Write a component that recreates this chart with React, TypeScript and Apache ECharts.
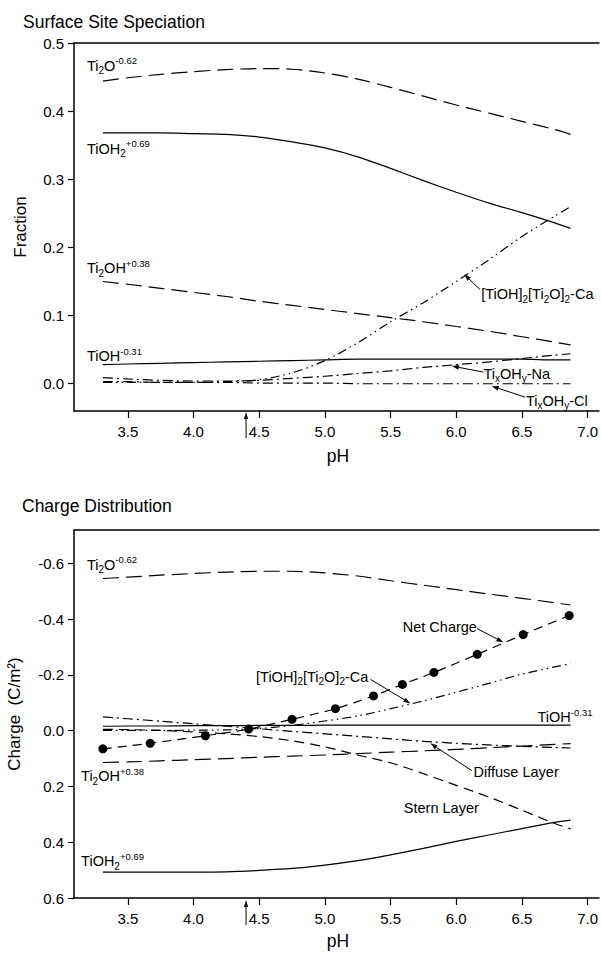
import React, { useEffect, useRef } from "react";
import * as echarts from "echarts";

const FONT = '"Liberation Sans", Arial, Helvetica, sans-serif';

// ---------- data ----------
const phGrid = [3.31, 3.5, 3.75, 4.0, 4.25, 4.5, 4.75, 5.0, 5.25, 5.5, 5.75, 6.0, 6.25, 6.5, 6.75, 6.87];

// Surface Site Speciation (fraction)
const fracTi2O = [0.444, 0.449, 0.454, 0.458, 0.461, 0.4625, 0.4615, 0.456, 0.447, 0.435, 0.422, 0.409, 0.397, 0.385, 0.373, 0.366];
const fracTiOH2 = [0.368, 0.368, 0.368, 0.367, 0.366, 0.362, 0.355, 0.346, 0.333, 0.316, 0.298, 0.281, 0.265, 0.251, 0.236, 0.228];
const fracTi2OH = [0.150, 0.146, 0.140, 0.134, 0.128, 0.121, 0.115, 0.109, 0.103, 0.097, 0.091, 0.084, 0.077, 0.069, 0.061, 0.057];
const fracTiOH = [0.028, 0.029, 0.030, 0.031, 0.032, 0.033, 0.034, 0.035, 0.036, 0.036, 0.036, 0.036, 0.036, 0.036, 0.035, 0.035];
const fracCa = [0.002, 0.002, 0.002, 0.002, 0.003, 0.006, 0.016, 0.034, 0.060, 0.091, 0.119, 0.150, 0.182, 0.216, 0.246, 0.260];
const fracNa = [0.009, 0.007, 0.005, 0.004, 0.004, 0.005, 0.008, 0.011, 0.015, 0.019, 0.024, 0.028, 0.032, 0.037, 0.042, 0.044];
const fracCl = [0.003, 0.003, 0.002, 0.002, 0.002, 0.001, 0.001, 0.001, 0.0, 0.0, 0.0, 0.0, 0.0, 0.0, 0.0, 0.0];

// Charge Distribution (C/m2)
const chgTi2O = [-0.546, -0.551, -0.558, -0.564, -0.569, -0.572, -0.572, -0.566, -0.555, -0.538, -0.522, -0.506, -0.490, -0.475, -0.459, -0.451];
const chgTiOH2 = [0.507, 0.507, 0.507, 0.507, 0.506, 0.501, 0.494, 0.482, 0.466, 0.445, 0.422, 0.397, 0.374, 0.351, 0.329, 0.321];
const chgTi2OH = [0.114, 0.112, 0.108, 0.104, 0.100, 0.095, 0.091, 0.087, 0.082, 0.077, 0.072, 0.067, 0.061, 0.055, 0.049, 0.046];
const chgTiOH = [-0.016, -0.017, -0.017, -0.018, -0.018, -0.019, -0.019, -0.020, -0.020, -0.020, -0.020, -0.020, -0.020, -0.020, -0.020, -0.020];
const chgCa = [-0.001, -0.001, -0.001, -0.002, -0.003, -0.008, -0.019, -0.035, -0.053, -0.079, -0.107, -0.138, -0.170, -0.203, -0.229, -0.240];
const chgDiffuse = [-0.050, -0.043, -0.034, -0.025, -0.016, -0.007, 0.002, 0.011, 0.020, 0.029, 0.038, 0.045, 0.051, 0.056, 0.060, 0.062];
const chgStern = [-0.005, -0.004, -0.001, 0.004, 0.011, 0.021, 0.036, 0.058, 0.087, 0.115, 0.154, 0.196, 0.238, 0.285, 0.333, 0.352];
const netPH = [3.31, 3.67, 4.09, 4.42, 4.75, 5.08, 5.37, 5.59, 5.83, 6.16, 6.51, 6.86];
const netCharge = [0.065, 0.045, 0.018, -0.006, -0.041, -0.079, -0.125, -0.166, -0.209, -0.274, -0.345, -0.413];

const xTicks = [3.5, 4.0, 4.5, 5.0, 5.5, 6.0, 6.5, 7.0];
const fracTicks = [0.0, 0.1, 0.2, 0.3, 0.4, 0.5];
const chargeTicks = [-0.6, -0.4, -0.2, 0.0, 0.2, 0.4, 0.6];
const pzcPH = 4.4;

// ---------- annotations (data coords) ----------
const topLabels = [
  { x: 3.189, y: 0.4666, text: "{b|Ti}{sub|2}{b|O}{sup|-0.62}" },
  { x: 3.189, y: 0.3445, text: "{b|TiOH}{sub|2}{sup|+0.69}" },
  { x: 3.189, y: 0.1696, text: "{b|Ti}{sub|2}{b|OH}{sup|+0.38}" },
  { x: 3.189, y: 0.0401, text: "{b|TiOH}{sup|-0.31}" },
  { x: 6.19, y: 0.1313, text: "{b|[TiOH]}{sub|2}{b|[Ti}{sub|2}{b|O]}{sub|2}{b|-Ca}" },
  { x: 6.207, y: 0.0144, text: "{b|Ti}{sub|x}{b|OH}{sub|y}{b|-Na}" },
  { x: 6.531, y: -0.0253, text: "{b|Ti}{sub|x}{b|OH}{sub|y}{b|-Cl}" },
];
const topArrows = [
  { from: [6.181, 0.1382], to: [6.061, 0.1607] },
  { from: [6.207, 0.0171], to: [5.967, 0.0259] },
  { from: [6.524, -0.0197], to: [6.271, -0.0035] },
];
const bottomLabels = [
  { x: 3.189, y: -0.596, text: "{b|Ti}{sub|2}{b|O}{sup|-0.62}" },
  { x: 5.593, y: -0.373, text: "{b|Net Charge}" },
  { x: 4.476, y: -0.1935, text: "{b|[TiOH]}{sub|2}{b|[Ti}{sub|2}{b|O]}{sub|2}{b|-Ca}" },
  { x: 6.619, y: -0.049, text: "{b|TiOH}{sup|-0.31}" },
  { x: 6.132, y: 0.147, text: "{b|Diffuse Layer}" },
  { x: 5.601, y: 0.2763, text: "{b|Stern Layer}" },
  { x: 3.144, y: 0.1624, text: "{b|Ti}{sub|2}{b|OH}{sup|+0.38}" },
  { x: 3.144, y: 0.468, text: "{b|TiOH}{sub|2}{sup|+0.69}" },
];
const bottomArrows = [
  { from: [6.157, -0.367], to: [6.359, -0.317] },
  { from: [5.348, -0.184], to: [5.651, -0.098] },
  { from: [6.119, 0.1434], to: [5.803, 0.0452] },
];

const LONG = [16, 7];
const MED = [10, 6];
const DASHDOT = [10, 4, 2, 4];
const DASHDOTDOT = [9, 4, 1.5, 4, 1.5, 4];

function zip(xs: number[], ys: number[]) {
  return xs.map((x, i) => [x, ys[i]]);
}

function lineSeries(name: string, xAxisIndex: number, yAxisIndex: number, data: number[][], dash: any, width = 1.2) {
  return {
    type: "line",
    name,
    xAxisIndex,
    yAxisIndex,
    data,
    smooth: 0.3,
    showSymbol: false,
    symbol: "none",
    lineStyle: { color: "#000", width, type: dash },
    silent: true,
    z: 3,
  };
}

const rich = {
  b: { fontSize: 14.5, lineHeight: 20, fontFamily: FONT, fill: "#000" },
  sub: { fontSize: 10, lineHeight: 8, fontFamily: FONT, fill: "#000", verticalAlign: "bottom" },
  sup: { fontSize: 9.5, lineHeight: 13, fontFamily: FONT, fill: "#000", verticalAlign: "top" },
};

function xAxisPair(gridIndex: number) {
  return [
    {
      gridIndex,
      type: "value",
      min: 3.09,
      max: 7.087,
      axisLine: { show: true, onZero: false, lineStyle: { color: "#000", width: 1.5 } },
      axisTick: { show: true, length: 7, customValues: xTicks, lineStyle: { color: "#000", width: 1.2 } },
      axisLabel: {
        customValues: xTicks,
        formatter: (v: number) => v.toFixed(1),
        fontSize: 15,
        fontFamily: FONT,
        color: "#000",
        margin: 13,
      },
      splitLine: { show: false },
    },
    {
      gridIndex,
      type: "value",
      position: "top",
      min: 3.09,
      max: 7.087,
      axisLine: { show: true, onZero: false, lineStyle: { color: "#000", width: 1.5 } },
      axisTick: { show: false },
      axisLabel: { show: false },
      splitLine: { show: false },
    },
  ];
}

export default function App() {
  const ref = useRef<HTMLDivElement>(null);

  useEffect(() => {
    if (!ref.current) return;
    const chart = echarts.init(ref.current, undefined, { renderer: "svg" });

    const topSeries = [
      lineSeries("Ti2O", 0, 0, zip(phGrid, fracTi2O), LONG),
      lineSeries("TiOH2", 0, 0, zip(phGrid, fracTiOH2), "solid"),
      lineSeries("Ti2OH", 0, 0, zip(phGrid, fracTi2OH), LONG),
      lineSeries("TiOH", 0, 0, zip(phGrid, fracTiOH), "solid"),
      lineSeries("Ca", 0, 0, zip(phGrid, fracCa), DASHDOTDOT),
      lineSeries("Na", 0, 0, zip(phGrid, fracNa), DASHDOT),
      lineSeries("Cl", 0, 0, zip(phGrid, fracCl), DASHDOT),
    ];
    const bottomSeries = [
      lineSeries("Ti2O b", 2, 1, zip(phGrid, chgTi2O), LONG),
      lineSeries("TiOH2 b", 2, 1, zip(phGrid, chgTiOH2), "solid"),
      lineSeries("Ti2OH b", 2, 1, zip(phGrid, chgTi2OH), LONG),
      lineSeries("TiOH b", 2, 1, zip(phGrid, chgTiOH), "solid"),
      lineSeries("Ca b", 2, 1, zip(phGrid, chgCa), DASHDOTDOT),
      lineSeries("Diffuse", 2, 1, zip(phGrid, chgDiffuse), DASHDOT),
      lineSeries("Stern", 2, 1, zip(phGrid, chgStern), MED),
      {
        type: "line",
        name: "Net Charge",
        xAxisIndex: 2,
        yAxisIndex: 1,
        data: zip(netPH, netCharge),
        smooth: 0.3,
        showSymbol: true,
        symbol: "circle",
        symbolSize: 9,
        itemStyle: { color: "#000" },
        lineStyle: { color: "#000", width: 1.2, type: [9, 6] },
        silent: true,
        z: 4,
      },
    ];

    const option: any = {
      animation: false,
      backgroundColor: "#fff",
      grid: [
        { left: 74, top: 43, width: 527, height: 368 },
        { left: 74, top: 530, width: 527, height: 368 },
      ],
      xAxis: [...xAxisPair(0), ...xAxisPair(1)],
      yAxis: [
        {
          gridIndex: 0,
          type: "value",
          min: -0.04,
          max: 0.5,
          axisLine: { show: true, onZero: false, lineStyle: { color: "#000", width: 1.5 } },
          axisTick: { show: true, length: 6, customValues: fracTicks, lineStyle: { color: "#000", width: 1.2 } },
          axisLabel: {
            customValues: fracTicks,
            formatter: (v: number) => v.toFixed(1),
            fontSize: 15,
            fontFamily: FONT,
            color: "#000",
            margin: 10,
          },
          splitLine: { show: false },
        },
        {
          gridIndex: 1,
          type: "value",
          min: -0.72,
          max: 0.6,
          inverse: true,
          axisLine: { show: true, onZero: false, lineStyle: { color: "#000", width: 1.5 } },
          axisTick: { show: true, length: 6, customValues: chargeTicks, lineStyle: { color: "#000", width: 1.2 } },
          axisLabel: {
            customValues: chargeTicks,
            formatter: (v: number) => (Math.abs(v) < 1e-9 ? "0.0" : v.toFixed(1)),
            fontSize: 15,
            fontFamily: FONT,
            color: "#000",
            margin: 10,
          },
          splitLine: { show: false },
        },
      ],
      series: [...topSeries, ...bottomSeries],
    };

    chart.setOption(option);

    const bottomIdx = topSeries.length;
    const toPx = (g: number, p: number[]) =>
      chart.convertToPixel({ seriesIndex: g === 0 ? 0 : bottomIdx }, p) as number[];

    const graphics: any[] = [];
    const addText = (x: number, y: number, text: string, size: number, extra: any = {}) => {
      graphics.push({
        type: "text",
        x,
        y,
        silent: true,
        style: {
          text,
          fontSize: size,
          fontFamily: FONT,
          fill: "#000",
          align: extra.align || "left",
          verticalAlign: "middle",
        },
      });
    };
    const addRich = (g: number, l: { x: number; y: number; text: string }) => {
      const [px, py] = toPx(g, [l.x, l.y]);
      graphics.push({
        type: "text",
        x: px,
        y: py,
        silent: true,
        z: 10,
        style: { text: l.text, rich, align: "left", verticalAlign: "middle", fill: "#000" },
      });
    };
    const addArrow = (p1: number[], p2: number[], head = 7, half = 2.4) => {
      const dx = p2[0] - p1[0];
      const dy = p2[1] - p1[1];
      const len = Math.hypot(dx, dy) || 1;
      const ux = dx / len;
      const uy = dy / len;
      const nx = -uy;
      const ny = ux;
      const bx = p2[0] - ux * head;
      const by = p2[1] - uy * head;
      graphics.push({
        type: "line",
        silent: true,
        z: 10,
        shape: { x1: p1[0], y1: p1[1], x2: bx, y2: by },
        style: { stroke: "#000", lineWidth: 1 },
      });
      graphics.push({
        type: "polygon",
        silent: true,
        z: 10,
        shape: {
          points: [
            [p2[0], p2[1]],
            [bx + nx * half, by + ny * half],
            [bx - nx * half, by - ny * half],
          ],
        },
        style: { fill: "#000" },
      });
    };

    // titles
    addText(23, 22, "Surface Site Speciation", 17.5);
    addText(22, 506, "Charge Distribution", 17.5);
    // axis names
    addText(338, 456, "pH", 17.5, { align: "center" });
    addText(338, 941, "pH", 17.5, { align: "center" });
    graphics.push({
      type: "text", x: 20, y: 227, rotation: Math.PI / 2, silent: true,
      style: { text: "Fraction", fontSize: 17, fontFamily: FONT, fill: "#000", align: "center", verticalAlign: "middle" },
    });
    graphics.push({
      type: "text", x: 14, y: 714, rotation: Math.PI / 2, silent: true,
      style: { text: "Charge  (C/m²)", fontSize: 17, fontFamily: FONT, fill: "#000", align: "center", verticalAlign: "middle" },
    });

    topLabels.forEach((l) => addRich(0, l));
    bottomLabels.forEach((l) => addRich(1, l));
    topArrows.forEach((a) => addArrow(toPx(0, a.from), toPx(0, a.to)));
    bottomArrows.forEach((a) => addArrow(toPx(1, a.from), toPx(1, a.to)));

    // pH marker arrows below x axes
    const t0 = toPx(0, [pzcPH, -0.04]);
    addArrow([t0[0], t0[1] + 27], [t0[0], t0[1] + 1], 7, 2.2);
    const b0 = toPx(1, [pzcPH, 0.6]);
    addArrow([b0[0], b0[1] + 27], [b0[0], b0[1] + 2], 7, 2.2);

    chart.setOption({ graphic: graphics });

    return () => chart.dispose();
  }, []);

  return (
    <div
      ref={ref}
      style={{ position: "fixed", left: 0, top: 0, width: 601, height: 960, background: "#fff" }}
    />
  );
}
